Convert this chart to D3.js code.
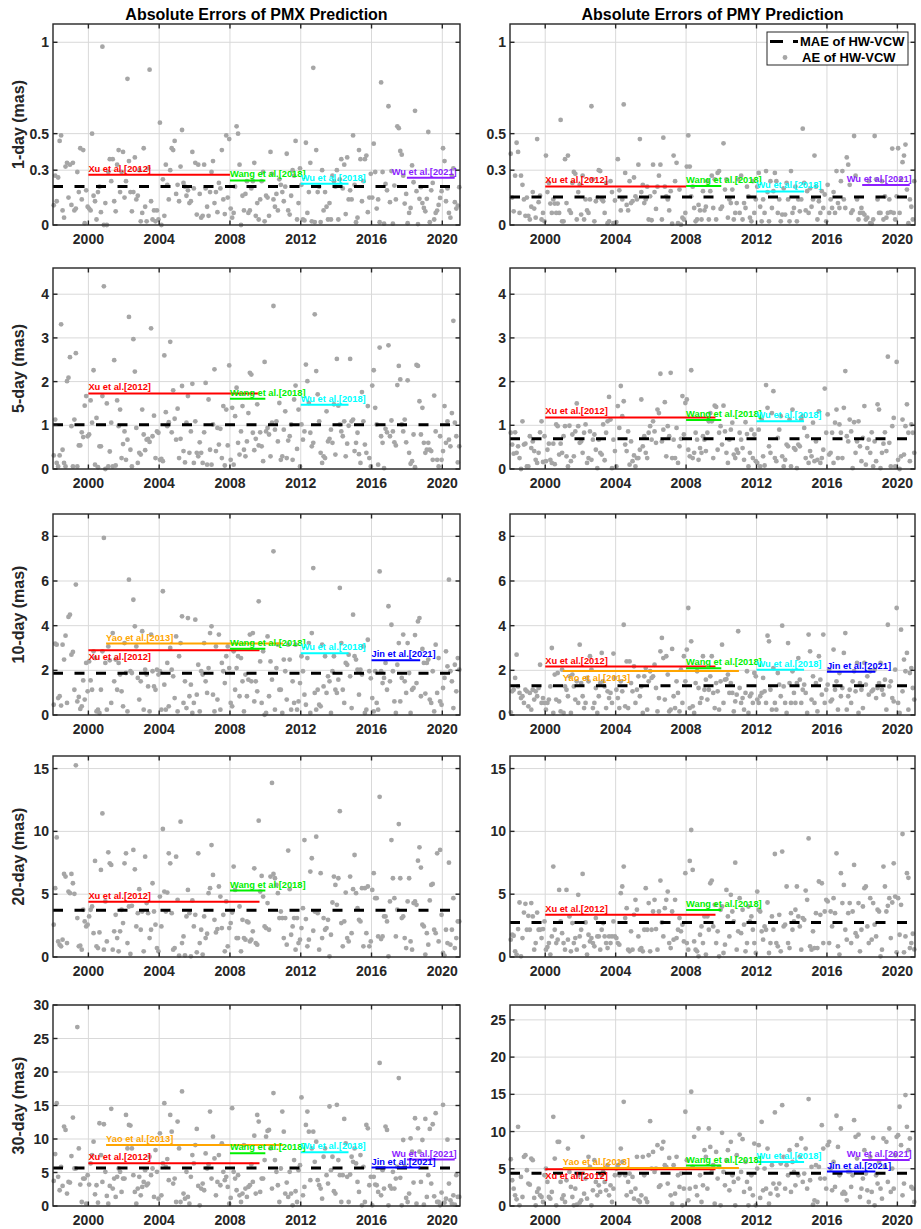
<!DOCTYPE html>
<html><head><meta charset="utf-8">
<script src="https://cdn.jsdelivr.net/npm/d3@7"></script>
<style>body{margin:0;background:#fff}svg{display:block}</style>
</head><body>
<svg id="c" width="921" height="1229"></svg>
<script>
// ---------- DATA (one value per month 1998-2020) ----------
const yearTicks = [2000, 2004, 2008, 2012, 2016, 2020];
const rowLabels = ["1-day (mas)", "5-day (mas)", "10-day (mas)", "20-day (mas)", "30-day (mas)"];
const colTitles = ["Absolute Errors of PMX Prediction", "Absolute Errors of PMY Prediction"];

const pmx1 = [
0.108,0.27,0.13,0.26,0.46,0.49,0.08,0.04,0.32,0.34,0.15,0.33,
0.11,0.34,0.08,0.09,0.29,0.18,0.42,0.14,0.41,0.01,0.19,0.10,
0.09,0.08,0.50,0.16,0.13,0.03,0.18,0.21,0.07,0.976,0.0,0.12,
0.0,0.29,0.36,0.24,0.36,0.13,0.075,0.33,0.41,0.18,0.29,0.40,
0.15,0.24,0.80,0.35,0.18,0.075,0.18,0.37,0.14,0.16,0.30,0.02,
0.066,0.42,0.10,0.02,0.31,0.85,0.13,0.03,0.08,0.02,0.08,0.03,
0.56,0.0,0.25,0.05,0.33,0.22,0.14,0.30,0.42,0.41,0.46,0.17,
0.22,0.13,0.32,0.52,0.23,0.21,0.16,0.19,0.12,0.13,0.40,0.20,
0.34,0.057,0.33,0.17,0.04,0.05,0.33,0.20,0.10,0.05,0.18,0.29,
0.35,0.12,0.18,0.07,0.23,0.20,0.41,0.14,0.06,0.49,0.15,0.47,
0.09,0.04,0.066,0.21,0.54,0.50,0.33,0.0,0.16,0.08,0.17,0.24,
0.066,0.08,0.20,0.24,0.34,0.05,0.12,0.03,0.14,0.24,0.29,0.02,
0.16,0.15,0.05,0.40,0.28,0.14,0.10,0.17,0.08,0.25,0.22,0.18,
0.13,0.21,0.39,0.08,0.057,0.16,0.30,0.27,0.46,0.03,0.12,0.31,
0.22,0.03,0.025,0.45,0.066,0.18,0.34,0.02,0.86,0.016,0.41,0.18,
0.21,0.016,0.30,0.08,0.18,0.10,0.03,0.12,0.03,0.27,0.24,0.21,
0.30,0.03,0.25,0.36,0.20,0.33,0.06,0.37,0.14,0.19,0.14,0.49,
0.22,0.015,0.04,0.41,0.36,0.13,0.24,0.36,0.38,0.07,0.15,0.28,
0.15,0.445,0.29,0.09,0.14,0.015,0.78,0.29,0.007,0.225,0.19,0.65,
0.125,0.295,0.007,0.216,0.14,0.54,0.53,0.405,0.385,0.27,0.117,0.17,
0.01,0.066,0.093,0.326,0.234,0.625,0.185,0.005,0.143,0.207,0.12,0.093,
0.075,0.143,0.509,0.015,0.19,0.23,0.03,0.066,0.079,0.11,0.148,0.185,
0.42,0.35,0.13,0.2,0.066,0.04,0.27,0.31,0.125,0.09,0.106,0.207];

const pmy1 = [
0.39,0.15,0.075,0.27,0.45,0.40,0.066,0.27,0.22,0.14,0.05,0.15,
0.05,0.03,0.10,0.18,0.09,0.04,0.47,0.125,0.16,0.03,0.066,0.02,
0.38,0.18,0.23,0.117,0.066,0.14,0.117,0.066,0.117,0.066,0.575,0.02,
0.02,0.36,0.12,0.38,0.08,0.066,0.23,0.29,0.28,0.03,0.18,0.22,
0.057,0.27,0.03,0.14,0.08,0.066,0.14,0.65,0.25,0.02,0.13,0.15,
0.30,0.295,0.14,0.13,0.066,0.23,0.01,0.02,0.24,0.18,0.01,0.134,
0.016,0.36,0.19,0.08,0.14,0.66,0.285,0.11,0.08,0.24,0.12,0.13,
0.26,0.157,0.14,0.33,0.47,0.18,0.22,0.12,0.14,0.21,0.03,0.157,
0.026,0.33,0.18,0.088,0.21,0.27,0.33,0.03,0.478,0.21,0.157,0.14,
0.08,0.185,0.007,0.38,0.24,0.34,0.01,0.194,0.002,0.04,0.03,0.066,
0.32,0.49,0.32,0.157,0.21,0.093,0.02,0.03,0.11,0.08,0.03,0.185,
0.08,0.10,0.24,0.03,0.185,0.27,0.093,0.25,0.03,0.285,0.295,0.088,
0.10,0.447,0.194,0.25,0.04,0.14,0.12,0.194,0.03,0.066,0.12,0.25,
0.066,0.27,0.03,0.12,0.093,0.21,0.157,0.04,0.02,0.24,0.066,0.14,
0.21,0.285,0.10,0.02,0.14,0.066,0.295,0.18,0.02,0.24,0.093,0.185,
0.285,0.24,0.066,0.14,0.02,0.057,0.20,0.057,0.23,0.14,0.02,0.295,
0.066,0.093,0.21,0.02,0.14,0.075,0.14,0.527,0.23,0.08,0.185,0.066,
0.20,0.10,0.14,0.38,0.21,0.03,0.13,0.066,0.185,0.093,0.167,0.02,
0.22,0.066,0.14,0.093,0.18,0.066,0.295,0.12,0.093,0.24,0.295,0.14,
0.093,0.37,0.33,0.22,0.066,0.08,0.487,0.27,0.14,0.03,0.066,0.093,
0.066,0.057,0.03,0.04,0.24,0.01,0.007,0.03,0.487,0.25,0.14,0.066,
0.066,0.24,0.03,0.157,0.04,0.066,0.14,0.07,0.418,0.066,0.03,0.157,
0.42,0.066,0.25,0.344,0.38,0.44,0.194,0.01,0.14,0.10,0.03,0.24];

const pmx5 = [
0.31,1.13,0.14,0.06,0.31,3.31,0.44,0.14,0.06,2.01,2.09,2.56,
0.98,0.06,1.13,2.65,0.06,0.54,0.54,0.84,0.73,1.45,1.67,0.75,
0.79,1.57,1.06,2.26,0.10,1.17,0.04,0.52,0.52,1.67,4.18,0.0,
1.50,0.06,0.40,1.06,0.06,2.49,0.08,1.57,0.98,1.36,0.25,0.57,
0.86,0.21,0.67,3.48,0.44,0.06,2.97,2.23,0.94,0.14,0.37,0.33,
1.36,0.79,0.43,0.67,0.69,0.62,3.22,0.75,1.22,0.25,0.86,0.83,
0.21,0.23,0.18,2.60,1.30,0.98,1.07,2.91,0.84,1.80,1.15,0.67,
1.38,0.25,0.69,1.90,0.41,0.15,1.06,1.67,0.37,0.86,1.95,0.14,
1.09,0.37,0.29,0.61,0.37,0.14,0.84,1.97,0.10,1.59,0.44,0.10,
1.02,2.28,0.41,0.94,0.56,0.92,0.25,1.44,0.08,1.36,0.54,2.37,
0.21,1.40,0.10,1.21,1.86,0.60,0.33,0.86,1.44,0.44,0.29,0.63,
1.28,2.20,2.16,0.83,0.43,0.69,1.48,0.54,0.84,0.52,0.18,2.45,
0.86,0.94,0.79,0.29,1.06,3.73,0.90,1.09,0.63,1.51,0.21,0.29,
0.90,1.32,0.25,0.65,0.75,1.02,0.21,1.59,1.91,0.46,1.36,0.06,
1.02,0.67,0.86,2.39,2.01,1.51,0.83,0.52,0.60,3.54,2.24,1.71,
1.09,0.37,0.14,0.29,0.25,1.32,0.63,0.69,0.90,0.60,1.48,0.33,
2.52,1.45,1.02,0.86,0.75,1.09,0.29,0.58,0.99,2.52,1.09,1.13,
0.41,0.60,0.83,0.34,0.14,1.76,1.09,0.56,0.37,1.44,0.25,0.06,
1.91,2.26,1.40,1.02,0.10,2.78,0.75,0.60,0.02,0.92,0.84,2.83,
0.75,1.11,0.86,0.61,0.54,1.92,2.36,2.05,1.02,0.86,1.13,0.61,
2.03,0.37,0.12,0.18,0.79,0.04,2.38,2.36,1.55,0.79,1.40,0.60,
0.37,0.44,0.60,0.44,0.41,0.21,1.68,0.86,0.21,0.06,0.75,0.21,
0.41,1.44,0.60,1.09,0.67,0.52,1.28,3.39,1.06,0.75,0.15,0.52];

const pmy5 = [
0.83,0.56,0.35,0.84,0.37,0.52,0.25,0.0,1.09,0.56,0.58,0.06,
0.06,0.75,0.48,0.63,0.41,0.21,0.14,0.37,0.84,1.09,0.16,0.75,
0.18,0.44,0.58,0.21,0.14,0.58,0.11,1.02,0.98,0.33,0.58,0.37,
0.75,0.98,0.29,0.06,0.99,0.18,0.79,0.29,0.86,1.50,0.98,0.60,
0.63,0.37,0.83,1.02,0.14,0.25,0.86,0.21,0.67,0.79,0.44,0.02,
0.67,0.37,0.33,1.02,0.20,0.83,1.09,1.65,1.13,0.02,0.67,0.41,
0.06,1.44,0.94,1.90,1.21,1.55,0.56,0.41,0.86,0.10,0.63,0.18,
0.31,0.06,0.25,0.25,0.44,1.59,0.52,0.75,0.37,0.25,0.83,0.98,
0.67,1.09,0.86,0.60,1.36,1.28,2.18,0.63,0.90,1.53,0.29,0.98,
0.75,2.20,0.25,0.67,0.25,0.94,0.14,0.52,0.69,1.67,0.79,1.51,
1.59,0.44,0.29,2.26,0.25,0.37,0.83,0.67,0.21,0.48,0.37,0.75,
0.67,0.41,0.83,1.09,1.28,1.09,0.25,1.45,1.42,0.44,0.83,0.98,
0.56,1.45,0.86,0.37,0.14,0.67,0.90,1.06,0.33,0.25,0.44,0.37,
0.83,0.67,0.48,0.21,1.07,0.80,0.06,0.37,0.90,0.25,0.79,0.18,
0.14,0.90,0.06,1.13,0.29,0.08,1.92,1.40,0.52,0.37,1.28,1.78,
0.25,0.18,0.71,0.90,1.21,0.29,0.06,0.21,0.56,0.52,1.13,0.06,
1.36,0.48,0.44,0.02,0.56,0.52,1.13,1.21,0.94,0.25,0.75,0.14,
0.41,0.29,1.06,0.18,0.63,0.21,1.32,0.14,0.25,0.44,1.84,0.83,
1.25,0.33,0.37,0.83,0.14,1.06,1.36,0.25,1.02,0.83,0.25,1.40,
2.24,0.75,0.63,1.13,0.86,0.02,1.07,0.37,0.63,1.09,0.52,0.18,
0.71,1.44,0.10,0.48,0.67,0.37,0.84,0.06,0.63,0.18,1.48,1.36,
0.02,0.37,0.58,0.84,0.41,2.57,0.60,0.06,0.98,1.17,0.06,2.45,
0.21,0.0,0.29,1.13,0.33,0.98,1.48,0.83,0.18,1.02,0.83,0.37];

const pmx10 = [
0.46,3.19,3.15,0.76,0.84,0.42,3.15,2.48,3.55,0.54,4.39,4.49,
2.70,2.82,1.13,5.84,0.61,0.81,0.27,0.39,1.55,0.69,2.33,1.06,
2.40,1.55,1.13,2.85,2.55,0.16,0.24,0.09,1.13,2.85,7.93,2.33,
0.24,3.07,2.45,0.54,3.67,1.51,2.48,1.13,2.33,1.81,1.06,0.39,
3.22,1.88,0.16,6.06,1.96,1.88,5.16,3.97,3.07,1.66,0.69,1.51,
3.75,0.24,2.03,1.81,1.28,0.16,3.60,1.96,1.28,1.13,2.03,1.81,
1.96,0.24,5.54,1.36,0.24,2.33,0.39,3.00,2.03,1.73,0.76,3.52,
0.16,2.63,3.22,4.42,0.54,1.51,0.31,4.34,0.84,1.36,0.09,0.54,
4.27,0.91,2.25,0.16,1.96,1.81,3.22,1.51,0.99,2.10,3.67,3.97,
0.91,0.16,3.07,0.69,3.60,0.24,2.33,1.96,1.43,2.63,3.07,2.10,
0.54,0.39,2.85,1.13,2.10,2.63,0.84,2.55,1.51,0.16,1.81,0.84,
1.58,3.60,1.51,3.67,0.61,1.51,1.06,5.09,2.40,0.54,2.85,0.01,
0.09,3.52,0.84,2.40,1.58,7.33,0.24,2.10,3.15,1.13,1.13,0.09,
2.48,1.96,0.69,3.15,2.48,0.24,1.51,0.54,3.15,0.24,0.61,1.43,
2.63,1.96,0.91,0.46,2.55,3.22,0.09,3.67,6.58,0.99,0.24,1.13,
0.46,0.39,3.15,1.28,2.63,0.99,1.73,1.51,0.09,1.96,2.63,1.13,
0.99,1.58,5.69,3.22,1.13,0.54,2.33,2.25,2.70,1.73,0.31,4.49,
2.63,2.48,2.03,0.91,2.03,1.81,3.07,0.09,0.24,3.37,1.96,1.64,
0.76,0.16,1.96,0.54,0.24,6.43,1.96,1.43,1.66,2.33,1.13,4.87,
1.51,4.04,1.96,0.61,0.09,2.25,3.22,0.61,1.66,3.60,1.51,0.99,
3.22,1.88,0.09,1.13,1.21,3.58,1.43,4.19,4.34,0.84,2.96,2.33,
0.96,2.33,2.48,0.69,0.54,1.96,0.16,3.15,0.99,2.55,0.61,0.46,
1.21,1.66,2.85,2.18,6.06,1.96,1.51,0.31,2.25,1.06,2.55,2.03];

const pmy10 = [
0.12,1.06,1.13,1.66,2.70,1.28,0.99,0.76,0.84,0.54,1.13,1.06,
0.39,0.99,0.24,1.13,0.69,1.06,0.84,1.21,2.25,0.54,0.76,0.54,
0.24,0.54,0.69,1.28,3.00,0.09,1.81,0.69,1.88,0.61,0.16,2.03,
0.09,1.28,1.13,0.84,1.73,0.09,1.81,1.28,0.69,1.51,0.54,3.15,
1.43,0.84,0.31,0.54,1.66,1.51,2.63,2.03,0.31,0.54,1.21,0.09,
0.84,1.43,2.78,1.51,1.28,0.31,1.06,0.76,0.99,0.54,2.75,1.66,
1.13,0.76,0.31,1.51,1.06,4.04,0.39,2.40,0.31,2.40,1.43,1.06,
2.18,0.54,1.13,1.73,0.84,1.28,0.09,1.73,2.10,0.24,1.51,1.96,
1.66,1.73,2.25,1.21,0.16,0.76,2.85,3.45,2.55,0.69,2.63,1.81,
0.16,0.24,2.96,0.84,0.31,1.51,0.99,0.16,2.03,0.54,2.63,1.51,
2.93,4.79,0.31,3.30,0.39,0.09,1.43,1.96,1.21,0.54,0.76,2.63,
1.13,1.58,0.69,1.13,1.73,2.63,0.99,0.31,1.43,1.06,0.24,1.51,
3.15,0.54,1.58,1.61,1.81,0.99,1.43,0.99,0.16,0.61,0.91,3.75,
1.21,0.54,0.76,0.24,0.99,1.96,0.09,0.84,0.96,0.54,1.88,1.73,
0.69,0.54,0.84,0.99,1.66,1.06,0.54,3.55,3.30,1.13,0.24,2.10,
0.54,0.24,1.88,1.36,0.84,4.00,1.28,0.54,0.09,3.22,1.43,0.54,
1.96,0.99,0.54,1.43,2.55,1.58,0.54,1.13,1.36,0.99,0.09,3.60,
2.85,0.69,1.73,0.54,1.43,0.16,2.63,1.58,0.91,3.60,0.54,1.13,
1.36,2.03,0.61,0.69,2.93,1.13,1.51,0.24,1.88,0.84,1.21,2.78,
3.67,0.24,0.84,1.13,0.54,1.51,1.96,1.06,2.33,0.09,1.43,1.13,
0.31,2.33,1.36,1.73,0.91,1.96,1.06,1.13,2.03,0.76,1.21,1.43,
2.33,1.13,0.91,1.58,0.24,4.04,1.28,1.51,0.76,0.61,2.03,4.79,
0.54,0.09,3.82,1.06,2.48,1.96,2.78,0.24,1.88,2.10,1.21,0.69];

const pmx20 = [
2.57,5.48,9.52,1.24,0.98,0.85,1.38,6.61,6.40,1.11,5.21,5.08,
6.61,5.87,5.03,15.26,3.10,0.85,0.90,0.58,3.76,2.83,2.43,2.57,
3.23,3.76,4.02,1.90,7.65,0.85,0.71,1.96,6.93,11.43,0.58,4.42,
1.24,8.33,7.46,7.33,0.58,2.04,3.36,1.51,0.45,2.04,3.76,2.70,
7.46,8.25,1.11,4.02,0.24,4.07,8.52,6.98,2.43,3.49,5.40,2.17,
3.62,0.45,7.99,4.29,3.49,1.51,2.17,5.87,3.62,2.57,0.71,0.45,
4.81,2.43,10.19,5.21,3.62,5.13,8.25,7.46,3.49,0.58,0.71,7.99,
4.55,0.11,10.77,1.11,1.64,0.13,3.23,5.34,3.49,0.05,4.50,2.43,
3.36,0.37,8.25,1.11,2.17,0.19,3.23,1.51,1.85,5.08,5.48,8.91,
6.53,2.96,1.96,2.22,5.61,4.81,2.30,3.36,0.45,4.42,0.85,2.30,
2.70,3.54,7.20,5.34,1.51,1.51,4.02,0.45,2.96,1.51,1.38,2.83,
2.75,1.24,1.38,2.04,7.06,1.11,0.98,10.85,5.21,6.45,4.81,2.43,
2.30,4.29,2.17,6.40,13.86,6.61,6.27,5.74,5.08,3.10,3.62,3.10,
1.51,3.10,0.98,8.47,5.40,1.77,2.43,3.10,0.58,3.10,1.11,1.38,
2.30,3.89,9.31,3.02,0.85,1.38,6.80,7.86,2.09,3.62,9.58,3.49,
0.58,6.67,1.51,3.10,2.17,2.30,2.96,0.05,1.77,4.34,6.40,5.74,
4.15,6.27,11.61,2.70,0.85,2.83,5.13,1.51,1.24,6.40,1.90,5.40,
8.12,5.08,3.89,2.96,2.83,5.48,0.85,5.48,1.90,5.61,0.85,1.24,
5.34,6.67,4.68,4.68,1.64,12.75,1.43,1.64,3.23,3.23,2.83,0.05,
4.42,9.31,6.27,4.68,1.64,3.76,10.58,6.27,3.10,3.23,1.51,0.71,
4.42,6.27,1.24,0.58,4.29,4.42,4.15,7.67,8.73,7.12,2.57,2.43,
0.19,1.90,0.98,4.50,5.74,5.82,2.17,1.90,8.25,1.24,8.52,3.36,
0.32,0.11,2.17,1.11,7.51,0.98,2.17,4.68,0.71,1.51,2.83,2.83];

const pmy20 = [
1.38,1.77,1.69,0.45,0.19,2.22,4.34,0.05,1.51,3.54,4.23,2.17,
3.28,2.17,4.29,3.23,0.58,1.11,3.54,2.17,2.17,1.51,2.22,2.83,
0.58,0.79,1.11,0.19,1.64,7.20,2.17,1.11,1.38,5.34,2.83,1.90,
1.11,0.58,5.34,1.38,3.23,0.45,2.70,1.11,1.51,0.58,4.95,1.64,
2.17,6.61,0.85,2.75,0.19,1.77,1.24,1.51,1.11,0.85,3.10,1.64,
1.64,0.58,2.17,2.70,1.64,1.11,0.71,1.64,1.11,1.64,2.83,1.64,
1.51,1.11,0.98,5.08,5.61,7.20,3.10,3.89,0.58,0.45,2.04,0.58,
3.36,4.55,3.76,1.64,0.58,0.71,0.45,2.17,5.48,2.17,4.29,0.45,
2.17,3.62,4.55,2.22,0.58,3.62,6.08,2.75,1.64,3.89,4.55,5.21,
1.11,0.71,3.62,1.38,4.55,1.51,2.17,3.10,2.04,2.57,1.24,6.67,
1.11,0.58,7.65,10.11,6.93,1.24,0.58,0.45,0.05,1.77,2.43,1.11,
3.23,0.19,3.23,2.17,5.87,6.08,2.43,4.15,1.11,2.04,0.05,3.76,
4.02,0.32,0.98,5.34,3.23,1.64,4.95,3.62,2.83,7.51,0.58,2.04,
4.68,1.90,3.76,2.57,0.45,1.11,4.02,2.83,3.23,2.17,1.11,0.32,
5.21,3.76,3.62,2.04,1.38,2.43,2.17,4.34,0.32,1.11,3.23,2.17,
8.20,1.11,0.85,3.36,0.45,8.39,2.43,2.57,5.61,1.11,0.71,3.49,
2.17,2.83,3.76,5.61,3.23,2.43,0.58,3.10,2.96,5.29,4.55,9.44,
0.85,0.58,2.04,0.71,3.49,0.71,6.01,3.36,5.87,1.11,3.62,4.55,
4.42,1.11,3.62,2.43,4.68,3.49,8.25,0.85,0.19,6.67,4.29,5.74,
2.17,1.38,3.49,4.29,1.11,3.62,7.33,1.90,1.64,4.29,0.45,2.17,
4.02,5.48,5.61,2.43,1.11,4.68,1.38,4.29,2.57,1.64,3.76,3.62,
0.05,0.58,7.20,5.61,3.62,4.07,4.68,1.51,4.34,7.46,4.81,0.37,
4.68,1.77,4.15,9.79,0.37,1.64,6.67,6.30,0.71,1.11,1.85,0.60];

const pmx30 = [
3.75,7.75,15.35,4.35,2.35,5.85,3.00,11.85,11.35,1.85,3.60,3.50,
7.45,13.2,5.60,5.60,26.7,8.60,3.20,0.60,4.10,4.10,0.35,4.60,
3.20,6.35,7.60,9.60,1.75,3.10,0.50,12.35,7.60,3.60,12.2,5.10,
1.50,0.35,3.00,14.5,2.60,4.10,1.35,4.35,5.60,5.10,2.10,4.10,
4.10,13.6,8.60,12.1,12.0,8.60,4.60,2.10,0.35,2.60,4.35,1.60,
2.85,3.60,5.35,3.10,3.35,7.35,4.60,5.60,1.35,8.35,5.10,1.10,
10.85,1.60,6.35,15.35,5.85,7.00,3.85,13.6,11.1,3.35,4.10,0.60,
12.6,8.60,0.60,17.1,1.85,1.10,5.10,1.35,0.35,4.35,7.60,6.35,
9.10,11.5,3.00,0.10,2.60,3.35,2.35,7.85,5.60,6.20,14.1,4.10,
10.35,7.10,1.60,3.60,7.60,3.10,9.35,5.10,3.85,4.35,2.85,0.35,
1.20,14.6,5.10,4.10,2.35,4.60,1.60,0.60,1.85,9.10,2.60,1.35,
2.85,3.10,6.20,3.60,10.5,1.85,13.6,12.6,2.10,4.10,4.10,6.85,
10.35,11.2,11.35,8.60,2.60,16.85,6.85,5.10,3.10,0.60,5.60,14.1,
11.1,1.85,3.50,1.35,5.10,1.85,0.10,6.85,2.20,0.60,5.35,6.10,
16.2,1.60,2.85,12.1,14.1,11.1,3.85,8.60,11.1,6.60,9.60,3.85,
3.10,2.60,1.10,7.35,8.60,4.60,3.35,14.85,5.35,7.35,2.20,1.85,
15.1,6.85,4.60,0.60,4.60,13.0,9.35,4.35,0.60,4.70,7.35,6.60,
8.60,6.35,3.60,2.10,7.60,0.10,5.85,0.60,12.1,11.6,3.10,4.35,
0.10,4.35,3.20,3.10,2.10,21.35,1.60,5.35,2.60,11.85,11.35,0.10,
3.00,2.60,5.10,2.60,4.10,5.85,19.1,4.20,0.10,9.85,5.85,1.20,
0.60,1.85,10.1,8.10,3.50,13.1,0.35,11.6,8.10,3.60,9.85,0.20,
13.0,1.35,4.60,11.5,3.35,12.2,1.45,13.85,0.60,0.60,0.10,2.00,
15.1,0.50,1.10,9.9,3.35,0.85,0.35,1.60,0.20,4.60,1.35,1.35];

const pmy30 = [
6.28,3.46,2.33,1.44,0.90,10.64,0.09,3.90,1.21,6.60,6.82,4.80,
3.01,2.87,6.37,6.15,1.08,0.09,1.89,2.33,1.44,1.21,0.54,4.13,
5.03,3.23,1.21,0.99,1.89,11.98,6.37,0.09,8.62,8.62,3.23,0.99,
1.44,0.54,3.46,7.72,4.58,2.56,1.21,0.09,2.33,0.18,4.13,0.45,
0.76,9.29,1.66,3.68,0.99,6.60,5.25,0.09,2.11,6.15,3.23,1.44,
2.78,1.89,4.13,4.58,3.23,2.11,5.48,1.44,2.78,0.54,2.33,4.13,
5.03,5.48,4.13,7.72,5.92,14.0,4.13,1.44,3.23,4.35,1.89,3.90,
0.99,2.33,6.60,0.76,0.54,1.44,6.60,4.13,0.99,0.54,6.82,11.40,
5.03,7.27,4.58,5.03,8.17,2.56,2.78,7.72,8.62,5.48,5.25,3.01,
6.46,1.44,0.31,5.48,1.66,6.60,4.13,2.56,4.35,0.09,2.33,12.66,
6.15,0.76,2.33,15.35,5.25,9.29,2.56,1.44,10.41,4.13,0.54,2.78,
7.50,6.60,2.33,10.41,7.94,4.58,5.48,0.31,7.27,3.68,5.25,0.09,
9.83,4.58,2.78,6.15,7.50,2.11,8.62,4.13,3.23,0.09,6.82,3.68,
9.60,4.58,8.98,1.89,5.92,3.23,0.09,2.33,4.13,1.44,8.39,0.09,
5.03,8.17,1.08,11.31,2.11,5.03,2.33,7.72,0.31,1.66,5.48,3.01,
12.57,2.33,1.44,3.01,5.70,13.55,6.60,2.33,5.48,4.13,7.50,1.89,
5.92,4.58,2.78,8.17,4.13,6.60,9.07,3.23,4.35,7.72,2.33,14.36,
3.46,5.25,0.18,0.76,5.48,0.54,5.25,3.68,10.86,7.72,3.68,2.33,
8.17,8.62,5.03,2.11,5.92,2.56,12.12,7.94,4.13,10.41,1.66,1.89,
1.66,0.76,4.58,4.58,2.56,4.13,11.53,9.29,6.37,9.60,1.21,2.33,
3.68,7.50,4.35,2.11,0.54,6.60,1.89,9.16,0.09,4.13,3.01,5.92,
2.33,0.99,9.07,5.25,8.62,3.23,10.41,1.89,5.03,2.33,6.82,9.29,
9.51,13.33,8.17,1.44,3.01,14.90,10.64,7.50,9.07,2.56,2.33,0.54];

// MAE of HW-VCW per panel (PMX, PMY)
const maeX = [0.211, 1.01, 1.87, 3.73, 5.68];
const maeY = [0.153, 0.69, 1.31, 2.75, 4.40];

// y-axis extents and ticks per row
const yMaxX = [1.1, 4.6, 9, 16, 30];
const yMaxY = [1.1, 4.6, 9, 16, 27];
const yTicksX = [[0,0.3,0.5,1],[0,1,2,3,4],[0,2,4,6,8],[0,5,10,15],[0,5,10,15,20,25,30]];
const yTicksY = [[0,0.3,0.5,1],[0,1,2,3,4],[0,2,4,6,8],[0,5,10,15],[0,5,10,15,20,25]];

// comparison methods: [key, MAE, startYear, endYear]
const methodNames = {Xu:"Xu et al.[2012]", Yao:"Yao et al.[2013]", Wang:"Wang et al.[2018]",
                     Wu18:"Wu et al.[2018]", Jin:"Jin et al.[2021]", Wu21:"Wu et al.[2021]"};
const refX = [
  [["Xu",0.275,2000,2008],["Wang",0.244,2008,2010],["Wu18",0.226,2012,2014.7],["Wu21",0.259,2018,2020.7]],
  [["Xu",1.73,2000,2009.67],["Wang",1.61,2008,2010],["Wu18",1.47,2012,2014.7]],
  [["Xu",2.90,2000,2009.67],["Yao",3.20,2001,2011],["Wang",2.97,2008,2010],["Wu18",2.76,2012,2014.7],["Jin",2.45,2016,2018.75]],
  [["Xu",4.39,2000,2009.67],["Wang",5.29,2008,2010]],
  [["Xu",6.38,2000,2009.67],["Yao",9.12,2001,2011],["Wang",7.88,2008,2010],["Wu18",8.03,2012,2014.7],["Jin",5.74,2016,2018.75],["Wu21",6.93,2018,2020.7]]
];
const refY = [
  [["Xu",0.211,2000,2008],["Wang",0.213,2008,2010],["Wu18",0.184,2012,2014.7],["Wu21",0.219,2018,2020.7]],
  [["Xu",1.18,2000,2009.67],["Wang",1.12,2008,2010],["Wu18",1.09,2012,2014.7]],
  [["Xu",2.17,2000,2009.67],["Yao",1.97,2001,2011],["Wang",2.09,2008,2010],["Wu18",2.03,2012,2014.7],["Jin",1.94,2016,2018.75]],
  [["Xu",3.36,2000,2009.67],["Wang",3.75,2008,2010]],
  [["Xu",4.94,2000,2009.67],["Yao",5.12,2001,2011],["Wang",5.43,2008,2010],["Wu18",5.92,2012,2014.7],["Jin",4.63,2016,2018.75],["Wu21",6.19,2018,2020.7]]
];

// ---------- STYLE / LAYOUT ----------
const colors = {Xu:"#ff0000", Yao:"#ffa500", Wang:"#00f000", Wu18:"#00ffff", Jin:"#0000ff", Wu21:"#8c1eff"};
const labelsBelow = {"0-2":["Xu"], "1-2":["Yao"], "1-4":["Xu"]};   // col-row
const FONT = "'Liberation Sans', Arial, Helvetica, sans-serif";
const AX = "#262626";
const colX = [53, 510], colW = [407, 405];
const rowTop = [24, 268, 514, 756, 1005], H = 201;

const svg = d3.select("#c");
const seriesX = [pmx1, pmx5, pmx10, pmx20, pmx30];
const seriesY = [pmy1, pmy5, pmy10, pmy20, pmy30];

function panel(col, row) {
  const vals = col === 0 ? seriesX[row] : seriesY[row];
  const mae = col === 0 ? maeX[row] : maeY[row];
  const ymax = col === 0 ? yMaxX[row] : yMaxY[row];
  const yt = col === 0 ? yTicksX[row] : yTicksY[row];
  const refs = col === 0 ? refX[row] : refY[row];
  const x0 = colX[col], y0 = rowTop[row], w = colW[col];
  const x = d3.scaleLinear().domain([1998, 2021]).range([x0, x0 + w]);
  const y = d3.scaleLinear().domain([0, ymax]).range([y0 + H, y0]);
  const n = vals.length;
  const tOf = i => 1998 + (i + 0.5) * 23 / n;
  const g = svg.append("g");

  // grid
  g.selectAll(null).data(yearTicks).join("line")
    .attr("x1", d => x(d)).attr("x2", d => x(d)).attr("y1", y0).attr("y2", y0 + H)
    .attr("stroke", "#d9d9d9").attr("stroke-width", 1);
  g.selectAll(null).data(yt).join("line")
    .attr("x1", x0).attr("x2", x0 + w).attr("y1", d => y(d)).attr("y2", d => y(d))
    .attr("stroke", "#d9d9d9").attr("stroke-width", 1);

  // points
  g.selectAll(null).data(vals).join("circle")
    .attr("cx", (d, i) => x(tOf(i))).attr("cy", d => y(d)).attr("r", 2.4)
    .attr("fill", "#a6a6a6");

  // MAE dashed line
  g.append("line").attr("x1", x(1998)).attr("x2", x(2021)).attr("y1", y(mae)).attr("y2", y(mae))
    .attr("stroke", "#000").attr("stroke-width", 3).attr("stroke-dasharray", "10,11.5");

  // comparison methods
  const below = labelsBelow[col + "-" + row] || [];
  refs.forEach(([k, v, s, e]) => {
    g.append("line").attr("x1", x(s)).attr("x2", x(e)).attr("y1", y(v)).attr("y2", y(v))
      .attr("stroke", colors[k]).attr("stroke-width", 2);
  });
  refs.forEach(([k, v, s, e]) => {
    const isBelow = below.includes(k);
    const t = g.append("text").text(methodNames[k])
      .attr("font-family", FONT).attr("font-weight", "bold").attr("font-size", 9.3)
      .attr("fill", colors[k])
      .attr("y", isBelow ? y(v) + 10 : y(v) - 3);
    if (k === "Wu21") t.attr("x", x(e) + 2).attr("text-anchor", "end");
    else t.attr("x", x(s));
  });

  // axes box
  g.append("rect").attr("x", x0).attr("y", y0).attr("width", w).attr("height", H)
    .attr("fill", "none").attr("stroke", AX).attr("stroke-width", 1.4);
  const TL = 4.5;
  yt.forEach(d => {
    g.append("line").attr("x1", x0).attr("x2", x0 + TL).attr("y1", y(d)).attr("y2", y(d)).attr("stroke", AX).attr("stroke-width", 1.4);
    g.append("line").attr("x1", x0 + w).attr("x2", x0 + w - TL).attr("y1", y(d)).attr("y2", y(d)).attr("stroke", AX).attr("stroke-width", 1.4);
  });
  yearTicks.forEach(d => {
    g.append("line").attr("x1", x(d)).attr("x2", x(d)).attr("y1", y0 + H).attr("y2", y0 + H - TL).attr("stroke", AX).attr("stroke-width", 1.4);
    g.append("line").attr("x1", x(d)).attr("x2", x(d)).attr("y1", y0).attr("y2", y0 + TL).attr("stroke", AX).attr("stroke-width", 1.4);
  });
  // tick labels
  g.selectAll(null).data(yt).join("text")
    .attr("x", x0 - 4).attr("y", d => y(d)).attr("dy", "0.36em")
    .attr("text-anchor", "end").attr("font-family", FONT).attr("font-weight", "bold")
    .attr("font-size", 14).attr("fill", AX)
    .text(d => d === 0.3 || d === 0.5 ? d.toFixed(1) : d);
  g.selectAll(null).data(yearTicks).join("text")
    .attr("x", d => x(d)).attr("y", y0 + H + 19)
    .attr("text-anchor", "middle").attr("font-family", FONT).attr("font-weight", "bold")
    .attr("font-size", 14).attr("fill", AX).text(d => d);

  if (row === 0) {
    g.append("text").text(colTitles[col]).attr("x", x0 + w / 2).attr("y", 20)
      .attr("text-anchor", "middle").attr("font-family", FONT).attr("font-weight", "bold")
      .attr("font-size", 16).attr("fill", "#000");
  }
  if (col === 0) {
    g.append("text").text(rowLabels[row])
      .attr("transform", `translate(24,${y0 + H / 2}) rotate(-90)`)
      .attr("text-anchor", "middle").attr("font-family", FONT).attr("font-weight", "bold")
      .attr("font-size", 16).attr("fill", AX);
  }
}

for (let r = 0; r < 5; r++) { panel(0, r); panel(1, r); }

// legend
const lg = svg.append("g");
lg.append("rect").attr("x", 767).attr("y", 32).attr("width", 141).attr("height", 33)
  .attr("fill", "#fff").attr("stroke", AX).attr("stroke-width", 1);
lg.append("line").attr("x1", 770).attr("x2", 798).attr("y1", 41.5).attr("y2", 41.5)
  .attr("stroke", "#000").attr("stroke-width", 3).attr("stroke-dasharray", "13,10");
lg.append("text").text("MAE of HW-VCW").attr("x", 800).attr("y", 41.5).attr("dy", "0.36em")
  .attr("font-family", FONT).attr("font-weight", "bold").attr("font-size", 13).attr("fill", "#000");
lg.append("circle").attr("cx", 785).attr("cy", 57.5).attr("r", 2.4).attr("fill", "#a6a6a6");
lg.append("text").text("AE of HW-VCW").attr("x", 802).attr("y", 57.5).attr("dy", "0.36em")
  .attr("font-family", FONT).attr("font-weight", "bold").attr("font-size", 13).attr("fill", "#000");
</script>
</body></html>
